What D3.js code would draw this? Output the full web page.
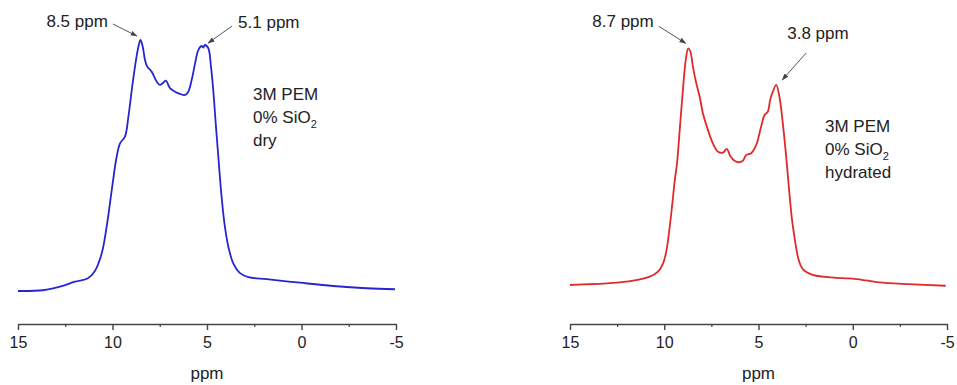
<!DOCTYPE html>
<html>
<head>
<meta charset="utf-8">
<script src="https://cdn.jsdelivr.net/npm/d3@7"></script>
<style>
  html, body { margin: 0; padding: 0; background: #fff; }
  svg { display: block; }
  text { font-family: "Liberation Sans", Arial, Helvetica, sans-serif; fill: #222; }
</style>
</head>
<body>
<svg id="chart" width="957" height="385"></svg>
<script>
// ---- data ----
const majorTicks = [15, 10, 5, 0, -5];
const minorTicks = [12.5, 7.5, 2.5, -2.5];
const axisTitle = "ppm";

// dry spectrum (ppm, intensity)
const dryPpm = [15.00, 13.68, 12.78, 11.98, 11.30, 10.93, 10.57, 10.31, 10.04, 9.78, 9.60, 9.34, 9.16, 8.98, 8.81, 8.63, 8.52, 8.40, 8.28, 8.16, 7.93, 7.66, 7.49, 7.31, 7.17, 6.96, 6.69, 6.43, 6.16, 5.99, 5.81, 5.63, 5.46, 5.28, 5.20, 5.11, 4.93, 4.79, 4.67, 4.54, 4.40, 4.26, 4.08, 3.87, 3.61, 3.25, 2.81, 1.84, 0.08, -1.68, -3.45, -4.95];
const dryInt = [0.0, 0.3, 1.7, 3.7, 5.1, 8.0, 15.0, 25.6, 40.2, 53.5, 58.8, 61.5, 69.4, 80.1, 89.4, 97.3, 100.0, 97.3, 92.0, 89.4, 87.4, 83.4, 82.1, 83.0, 83.8, 80.8, 79.4, 78.5, 78.1, 79.4, 84.1, 90.7, 96.0, 97.6, 97.0, 98.0, 96.7, 89.4, 80.1, 66.9, 53.5, 40.2, 27.1, 17.6, 11.0, 7.1, 5.5, 4.7, 3.3, 2.0, 1.1, 0.7];

// hydrated spectrum (ppm, intensity)
const hydPpm = [15.00, 12.88, 11.65, 10.77, 10.33, 10.06, 9.88, 9.71, 9.57, 9.44, 9.32, 9.18, 9.01, 8.86, 8.73, 8.61, 8.48, 8.30, 8.12, 7.95, 7.68, 7.42, 7.15, 6.89, 6.68, 6.50, 6.27, 6.04, 5.83, 5.65, 5.39, 5.12, 4.86, 4.68, 4.51, 4.38, 4.24, 4.06, 3.89, 3.71, 3.54, 3.36, 3.22, 3.04, 2.87, 2.66, 2.13, 0.54, 0.00, -0.70, -1.40, -2.99, -4.93];
const hydInt = [2.4, 3.1, 4.1, 5.7, 7.7, 11.0, 16.3, 25.6, 34.9, 44.2, 51.0, 64.1, 80.1, 92.0, 96.7, 95.3, 89.4, 82.7, 77.4, 70.8, 64.1, 58.8, 55.5, 55.1, 56.6, 53.8, 51.9, 51.3, 51.9, 54.2, 54.9, 58.2, 65.5, 70.1, 71.4, 76.1, 79.4, 82.1, 77.4, 66.8, 54.2, 38.9, 28.3, 19.0, 12.4, 8.8, 6.4, 5.1, 4.9, 4.2, 3.4, 2.7, 2.1];

// annotations
const dryPeaks = [8.5, 5.1];
const dryPeakLabels = ["8.5 ppm", "5.1 ppm"];
const hydPeaks = [8.7, 4.06];
const hydPeakLabels = ["8.7 ppm", "3.8 ppm"];
const dryNote = ["3M PEM", "0% SiO", "dry"];
const hydNote = ["3M PEM", "0% SiO", "hydrated"];

// ---- drawing ----
const svg = d3.select("#chart");
const y = d3.scaleLinear().domain([0, 100]).range([291, 40]);

svg.append("defs").append("marker")
  .attr("id", "arrow")
  .attr("viewBox", "0 0 10 10")
  .attr("refX", 9).attr("refY", 5)
  .attr("markerWidth", 7).attr("markerHeight", 7)
  .attr("markerUnits", "userSpaceOnUse")
  .attr("orient", "auto")
  .append("path").attr("d", "M0,1.5 L10,5 L0,8.5 Z").attr("fill", "#444");

function panel(cfg) {
  const x = d3.scaleLinear().domain([15, -5]).range(cfg.range);
  const g = svg.append("g");

  // axis
  const axisY = 324;
  const ax = g.append("g").attr("transform", `translate(0,${axisY})`)
    .call(d3.axisBottom(x).tickValues(majorTicks).tickSize(6).tickSizeOuter(0)
      .tickPadding(7).tickFormat(d => String(d)));
  ax.select(".domain").attr("stroke", "#444").attr("stroke-width", 1.6);
  ax.selectAll(".tick line").attr("stroke", "#444").attr("stroke-width", 1.4);
  ax.selectAll(".tick text").attr("font-size", 16).attr("fill", "#222")
    .attr("font-family", '"Liberation Sans", Arial, sans-serif');
  const mn = g.append("g").attr("transform", `translate(0,${axisY})`)
    .call(d3.axisBottom(x).tickValues(minorTicks).tickSize(3).tickSizeOuter(0).tickFormat(""));
  mn.select(".domain").remove();
  mn.selectAll(".tick line").attr("stroke", "#444").attr("stroke-width", 1.2);

  g.append("text").attr("x", x(5)).attr("y", 379).attr("text-anchor", "middle")
    .attr("font-size", 17).text(axisTitle);

  // spectrum
  const pts = cfg.ppm.map((p, i) => [p, cfg.int[i]]);
  const line = d3.line().x(d => x(d[0])).y(d => y(d[1])).curve(d3.curveCatmullRom.alpha(0.5));
  g.append("path").datum(pts).attr("d", line)
    .attr("fill", "none").attr("stroke", cfg.color).attr("stroke-width", 1.8)
    .attr("stroke-linejoin", "round");

  // peak annotations
  cfg.peaks.forEach((p, i) => {
    const a = cfg.ann[i];
    const px = x(p), py = y(cfg.peakInt[i]);
    g.append("line")
      .attr("x1", px + a.sx).attr("y1", py + a.sy)
      .attr("x2", px + a.ex).attr("y2", py + a.ey)
      .attr("stroke", "#555").attr("stroke-width", 1)
      .attr("marker-end", "url(#arrow)");
    g.append("text").attr("x", px + a.tx).attr("y", py + a.ty)
      .attr("text-anchor", a.anchor).attr("font-size", 17).text(cfg.labels[i]);
  });

  // sample note
  const n = cfg.note;
  g.append("text").attr("x", n.x).attr("y", n.y).attr("font-size", 17).text(cfg.noteText[0]);
  const sio = g.append("text").attr("x", n.x).attr("y", n.y + 23).attr("font-size", 17);
  sio.append("tspan").text(cfg.noteText[1]);
  sio.append("tspan").attr("font-size", 11).attr("dy", 5).text("2");
  g.append("text").attr("x", n.x).attr("y", n.y + 46).attr("font-size", 17).text(cfg.noteText[2]);
}

panel({
  range: [18, 396], ppm: dryPpm, int: dryInt, color: "#2626d0",
  peaks: dryPeaks, peakInt: [100, 98], labels: dryPeakLabels,
  ann: [
    { sx: -28, sy: -16, ex: -4, ey: -4, tx: -33, ty: -13, anchor: "end" },
    { sx: 27, sy: -19, ex: 3, ey: -2, tx: 33, ty: -17, anchor: "start" }
  ],
  note: { x: 253, y: 100 }, noteText: dryNote
});

panel({
  range: [570, 947], ppm: hydPpm, int: hydInt, color: "#e02a2a",
  peaks: hydPeaks, peakInt: [96.7, 82.1], labels: hydPeakLabels,
  ann: [
    { sx: -30, sy: -22, ex: -3, ey: -5, tx: -35, ty: -21, anchor: "end" },
    { sx: 30, sy: -32, ex: 6, ey: -5, tx: 11, ty: -46, anchor: "start" }
  ],
  note: { x: 825, y: 132 }, noteText: hydNote
});
</script>
</body>
</html>
